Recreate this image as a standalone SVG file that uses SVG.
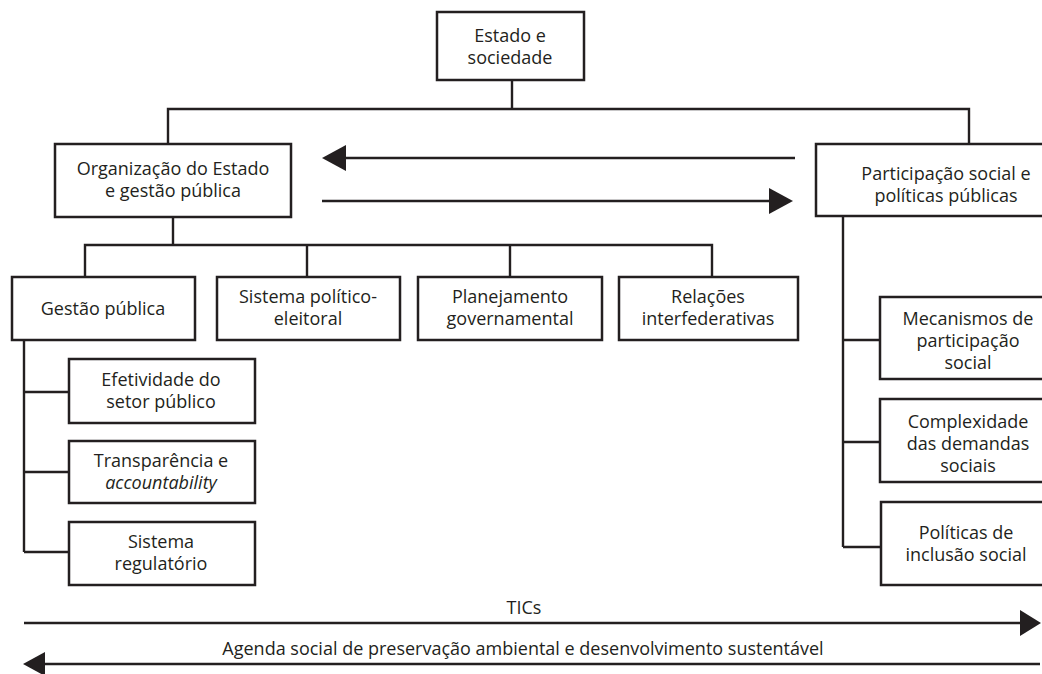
<svg xmlns="http://www.w3.org/2000/svg" width="1042" height="674" viewBox="0 0 1042 674">
<style>
.box{fill:#fff;stroke:#231f20;stroke-width:2.5}
.ln{fill:none;stroke:#231f20;stroke-width:2.4}
text{font-family:"Open Sans","Noto Sans",sans-serif;font-size:18px;fill:#231f20;text-anchor:middle}
.sm{font-size:18px}
.ah{fill:#231f20}
</style>
<rect width="1042" height="674" fill="#fff"/>
<g id="connectors">
<path class="ln" d="M512 80V109M168 144V109H969V144"/>
<path class="ln" d="M173 217V245M85 277V245H712V277M307 245V277M510 245V277"/>
<path class="ln" d="M24 340V552M24 392H69M24 472H69M24 552H69"/>
<path class="ln" d="M843 216V547M843 340H880M843 442H880M843 547H881"/>
<path class="ln" d="M795 158H340"/>
<polygon class="ah" points="322,158 346,145 346,171"/>
<path class="ln" d="M322 201H775"/>
<polygon class="ah" points="793,201 769,188 769,214"/>
<path class="ln" d="M24 623H1025"/>
<polygon class="ah" points="1041,623 1020,610 1020,636"/>
<path class="ln" d="M1040 664H40"/>
<polygon class="ah" points="23,664 45,652 45,676"/>
</g>
<g id="n-estado">
<rect class="box" x="437" y="12" width="147" height="68"/>
<text x="510" y="42">Estado e</text>
<text x="510" y="64">sociedade</text>
</g>
<g id="n-organizacao">
<rect class="box" x="55" y="144" width="236" height="73"/>
<text x="173" y="175">Organização do Estado</text>
<text x="173" y="197">e gestão pública</text>
</g>
<g id="n-participacao">
<rect class="box" x="816" y="144" width="260" height="72"/>
<text x="946" y="180">Participação social e</text>
<text x="946" y="202">políticas públicas</text>
</g>
<g id="n-gestao">
<rect class="box" x="12" y="277" width="183" height="63"/>
<text x="103" y="315">Gestão pública</text>
</g>
<g id="n-sistema">
<rect class="box" x="217" y="277" width="183" height="63"/>
<text x="308" y="303">Sistema político-</text>
<text x="308" y="325">eleitoral</text>
</g>
<g id="n-planejamento">
<rect class="box" x="418" y="277" width="184" height="63"/>
<text x="510" y="303">Planejamento</text>
<text x="510" y="325">governamental</text>
</g>
<g id="n-relacoes">
<rect class="box" x="619" y="277" width="179" height="63"/>
<text x="708" y="303">Relações</text>
<text x="708" y="325">interfederativas</text>
</g>
<g id="n-efetividade">
<rect class="box" x="69" y="359" width="186" height="64"/>
<text x="161" y="386">Efetividade do</text>
<text x="161" y="408">setor público</text>
</g>
<g id="n-transparencia">
<rect class="box" x="69" y="441" width="186" height="62"/>
<text x="161" y="467">Transparência e</text>
<text x="161" y="489" font-style="italic">accountability</text>
</g>
<g id="n-regulatorio">
<rect class="box" x="69" y="522" width="186" height="63"/>
<text x="161" y="548">Sistema</text>
<text x="161" y="570">regulatório</text>
</g>
<g id="n-mecanismos">
<rect class="box" x="880" y="297" width="180" height="82"/>
<text x="968" y="325">Mecanismos de</text>
<text x="968" y="347">participação</text>
<text x="968" y="369">social</text>
</g>
<g id="n-complexidade">
<rect class="box" x="880" y="399" width="180" height="83"/>
<text x="968" y="428">Complexidade</text>
<text x="968" y="450">das demandas</text>
<text x="968" y="472">sociais</text>
</g>
<g id="n-politicas">
<rect class="box" x="881" y="502" width="180" height="83"/>
<text x="966" y="539">Políticas de</text>
<text x="966" y="561">inclusão social</text>
</g>
<g id="labels">
<text class="sm" x="524" y="614">TICs</text>
<text class="sm" x="523" y="655">Agenda social de preservação ambiental e desenvolvimento sustentável</text>
</g>
</svg>
